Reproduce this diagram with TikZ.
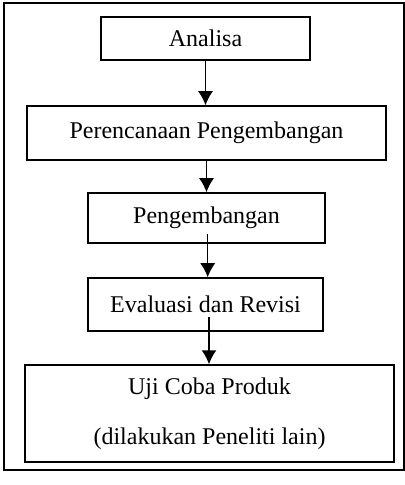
\documentclass[tikz,border=0pt]{standalone}
\usepackage{fontspec}
\setmainfont{Liberation Serif}
\usetikzlibrary{arrows.meta, positioning}

\begin{document}
\begin{tikzpicture}[>={Latex[length=7pt, width=7.5pt]}, x=0.5pt, y=-0.5pt,
    kotak/.style={draw, line width=0.75pt, inner sep=0pt, align=center,
        font=\fontsize{12}{14}\selectfont},
    panah/.style={->, line width=0.75pt}]
    % Bingkai luar
    \useasboundingbox (0,0) rectangle (405,485);
    \draw[line width=1pt] (4,3) rectangle (404,470);

    % Kotak tahapan
    \node[kotak, minimum width=104.5pt, minimum height=21.5pt] (analisa) at (205.5,38.5) {Analisa};
    \node[kotak, minimum width=179.5pt, minimum height=27pt] (rencana) at (206.5,133) {Perencanaan Pengembangan};
    \node[kotak, minimum width=118.5pt, minimum height=25pt] (kembang) at (206.5,218) {Pengembangan};
    \node[kotak, minimum width=117.5pt, minimum height=26.5pt] (evaluasi) at (205.5,304.5) {Evaluasi dan Revisi};
    \node[kotak, minimum width=184.5pt, minimum height=48.5pt] (ujicoba) at (209.5,413.5)
        {Uji Coba Produk\\[11pt](dilakukan Peneliti lain)};

    % Panah antar tahapan
    \draw[panah] (analisa.south) -- (analisa.south |- rencana.north);
    \draw[panah] (rencana.south) -- (rencana.south |- kembang.north);
    \draw[panah] ([xshift=0.6pt, yshift=5pt]kembang.south) -- ([xshift=0.6pt]kembang.south |- evaluasi.north);
    \draw[panah] ([xshift=1.75pt, yshift=7.5pt]evaluasi.south) -- ([xshift=1.75pt]evaluasi.south |- ujicoba.north);
\end{tikzpicture}
\end{document}
